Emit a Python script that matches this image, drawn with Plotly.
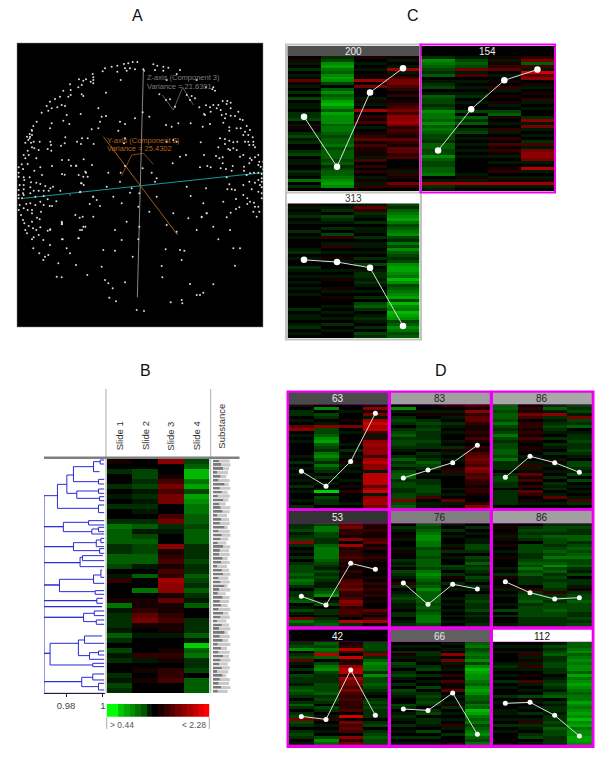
import plotly.graph_objects as go

W, H = 600, 776

# ---------- data ----------
slides = ["Slide 1", "Slide 2", "Slide 3", "Slide 4"]

sphere_points = [
(372,192),(385,190),(398,186),(412,186),(375,205),(390,205),(405,208),(430,208),(460,193),(472,197),(490,200),(505,203),
(335,200),(352,197),(315,205),(308,214),(278,222),(280,232),(352,215),(380,212),(432,212),(465,210),(490,212),(540,210),
(530,222),(362,240),(280,240),(272,245),(258,238),(237,238),(250,242),(210,253),(245,255),(235,262),(190,272),(212,270),
(280,250),(500,240),(590,240),(618,262),(640,262),(645,272),(637,268),(478,283),(498,300),(510,298),(525,320),(560,285),
(575,288),(570,300),(585,295),(318,278),(295,325),(245,283),(250,288),(212,285),(205,290),(180,290),(165,297),(150,305),
(140,318),(125,338),(185,315),(195,318),(172,322),(155,325),(145,332),(110,365),(100,378),(95,390),(90,410),(85,420),
(200,345),(242,342),(305,350),(318,348),(275,388),(295,385),(300,365),(190,362),(208,372),(155,370),(150,385),(428,337),
(448,350),(405,355),(360,365),(375,372),(355,392),(498,375),(515,380),(535,370),
(415,620),(395,565),(418,580),(365,610),(345,690),(380,665),(418,680),(398,770),(415,718),(365,720),(310,750),(345,752),
(280,590),(300,618),(280,650),(240,577),(248,650),(250,680),(240,690),(235,715),(185,665),(185,672),(150,690),(188,718),
(130,720),(150,735),(100,745),(118,760),(130,780),(145,765),(135,770),(175,790),(170,830),(185,832),(200,745),
(210,760),(228,795),(262,825),(305,800),(315,840),(325,850),(328,893),(338,865),(348,904),(375,847),(410,930),(432,933),
(485,798),(487,832),(497,748),(540,750),(545,780),(553,752),(570,852),(590,885),(600,885),(610,878),(640,853),(545,900),
(547,910),(512,907),(705,797),(560,560),(470,535),(465,545),(448,635),(470,590),(520,640),(530,695),(500,675),(565,655),
(455,518),(375,498),(362,518),(325,518),(360,545),(245,550),(258,518),(250,530),(228,497),(372,430),(375,415),(500,425),
(520,420),(530,425),(558,465),(428,505),(390,578),(540,470),(518,490),(320,560),(340,590),(290,600),
(655,718),(720,745),(700,745),(690,690),(640,680),(605,650),(590,690),(620,640)]
sphere_left_crop = [
(45,2),(38,12),(45,15),(30,20),(38,25),(25,38),(42,38),(50,35),(68,35),(100,35),(145,22),(180,35),(195,25),(212,25),
(230,42),(192,42),(132,47),(143,40),(102,45),(92,57),(103,62),(45,52),(52,55),(32,62),(20,75),(25,85),(35,75),(58,85),
(65,60),(135,90),(155,90),(200,88),(225,105),(162,107),(178,107),(105,108),(70,112),(32,102),(14,103),(5,112),(18,117),
(52,122),(5,128),(75,135),(135,132),(143,134),(185,135),(205,125),(212,140),(192,160),(200,165),(5,140),(20,142),(38,142),
(22,150),(42,157),(58,158),(70,162),(20,165),(8,165),(85,168),(108,170),(100,175),(95,182),(130,182),(20,178),(5,180),
(18,190),(40,172),(50,182),(65,182),(80,182),(190,185),(228,200),(5,195),(20,195),(40,190),(55,200),(80,198),(92,208),
(118,214),(98,228),(105,228),(218,222),(5,205),(15,205),(28,222),(40,220),(55,225),(70,215),(80,225),(8,225),(20,235),
(32,240),(45,240),(72,245),(5,240),(12,255),(45,250),(60,263),(175,255),(188,263),(18,270),(22,280),(45,275),(68,268),
(135,278),(135,283),(35,288),(48,295),(70,292),(205,290),(100,298),(92,302),(195,300),(25,300),(30,310),(58,300),(65,315),
(50,322),(45,328),(135,328),(185,325)]
sphere_right_crop = [
(98,3),(112,3),(122,8),(110,12),(85,15),(70,15),(60,22),(48,16),(28,22),(80,25),(92,30),(122,25),(95,45),(108,42),(42,42),
(45,45),(62,35),(122,47),(135,48),(145,35),(150,58),(158,60),(105,55),(100,68),(60,72),(38,80),(2,70),(118,82),(118,92),
(140,85),(152,85),(170,78),(165,95),(180,90),(160,105),(175,105),(188,112),(90,115),(105,117),(118,122),(130,127),(142,125),
(165,125),(175,125),(190,125),(105,132),(32,127),(178,135),(190,135),(195,142),(85,142),(115,147),(130,145),(140,150),
(120,150),(160,165),(150,170),(42,165),(78,168),(88,175),(98,172),(205,165),(195,172),(180,175),(185,180),(208,185),(220,185),
(178,190),(205,195),(98,190),(30,202),(52,198),(62,202),(92,205),(108,207),(128,198),(125,212),(162,200),(162,212),(212,200),
(220,208),(180,220),(192,218),(205,218),(215,222),(170,225),(215,235),(110,232),(205,240),(195,248),(178,245),(160,255),
(215,245),(210,255),(185,268),(215,262),(118,253),(112,268),(125,268),(135,270),(48,265),(205,275),(160,285),(172,295),
(215,280),(215,295),(2,288),(180,305),(192,308),(100,305),(40,310),(138,297),(172,312),(205,320),(195,320),(148,322),
(138,327),(122,338),(190,335),(208,335),(200,350),(50,340),(35,352),(110,352)]
highlight_point = [(210,585)]

x_axis_line = [(70,595),(789,518)]
z_axis_line = [(430,215),(412,892)]
y_axis_line = [(310,410),(533,705)]
z_glyph = [(487,285),(520,330),(548,262),(580,315)]
y_glyph = [(365,527),(395,465),(430,460),(460,493)]

# heat strip values: 'a'..'i' = green levels 1..9, '0' = black, '1'..'9' = red levels
B_columns = [
"10b00b0a0b" "00bedddbbd" "dc0a20001e" "abbbadb0ca" "b00bacb",
"00ccbcabab" "a0bdacdccd" "da0d00e011" "24510a0002" "a010100",
"6001353550" "035ba00612" "3132766141" "12311a0012" "1022300",
"cdhhegcgfe" "eddcdddbbb" "cbbdcbdbad" "00bbbdaide" "bbc0ddd",
]
colorbar_levels = [-9,-9,-7,-6,-5,-4,-3,-1,0,1,2,3,4,5,6,7,8,9]

panel_200 = ["01a0b0a041a0b0c0aa0bbc0a10bcab00bc0aa00ba0e0b",
             "bcfgedfgfc0dfdeghfdgfffdeedcddecdddcdbcddefgf",
             "10a0a010705000a1a0702130a012413111a302020a1a2",
             "1a0a7a1355" "3202012353" "6675232142" "1442300 1a2".replace(" ","0") + "10520"]
panel_154 = ["bfedcbd0abc0adccbcfeedfdedccbddccfdccdde0a7ba",
             "acdc5a30a0a0ab0a00c0dbd0bc0a0a0a0a00000a1a7a0",
             "1a1240a0102a0101a0cd10a02a0203121a0a0120a17a0",
             "25d3a94601a0102a0a00b6a5a0a0b3a5665a08a0a17a0"]
panel_313 = ["1a0ab0a00b0a000ab0a00ba0a0a0a0a0000b0aa0ab0a0",
             "0ab0cba0b0c20a20a01a00a0a1001a0100a0a0a0b0a00",
             "a42ba0b0aa0b0aa0a0b0c0abbaba0a0b0cdb0aba0b0cb",
             "cbdefgecdefcbecfdcbcfggfehfcdefgchfehgfcdfecd"]
panel_63 = ["a0bb0a0460a0a0000a0b0a0a0a0b0a00a0b",
            "0f0cb0a6ccdfgdcbefdbecb0b0a0ai0cbb",
            "00a001050a000a0b0a01a0a00a0102000a0",
            "1615a79783a26766637866a8888479a6775"]
panel_83 = ["0fa0bcb0bcdbccba0bdbcacddbccbbcc5cd",
            "00a10bcbcbbbcbb0babdcb0a0bbcccb30aa",
            "20a1a0ba0a00a0b1a0a0012a0000a0a04a1",
            "31624421121310213454365342212210 26".replace(" ","0")]
panel_86 = ["ddcddcecbcecbccddcebbb0bccbb0bbbbb0",
            "02153022121310110a0a2a14130204201a0",
            "bda6babcba0b0ba0b0a1a0a0b0bab0a40a0",
            "cbca5cbd0abbcbbcba0ccbac0c0a0a0a3b0"]
panel_53 = ["bbcabc6b0a0b0bcccdcedb0bbcd0aca05ec",
            "ceeccbbdeeeedcbacbcbaacdf0ac0bb1bcd",
            "45221607122321202113435223652332 8b".replace(" ","0"),
            "21211341201210010010212120100420370"]
panel_76 = ["0ba01a00a100bab0cba02b0abcbaa0bb0ab",
            "dcdeffeecddcdddcefedcdfddddcdcdeeec",
            "a0b0a00a1b0a00cb0b10b0a00a0a0a0a0a0",
            "0b0a0aaccb0cbdbcbacb0ba0bbcbbcabaab"]
panel_86b = ["0101a1010a01000a0b1001a0a00a0c0b00a",
             "0bcbcb0cccbbcdcecdbbb02bccdbccccbbb",
             "bccbdccbcdcecdfcdbcbccb2bcbccdccbbb",
             "bcbbddbcdcdeccdbac0bba1bccdcccbbcbc"]
panel_42 = ["bcf0bc4a0b0cbbacdcb0bdb0bc5cb0bcb0a",
            "dced8d0cefcbbbcccdbcb0cb0a20a0a0cfd",
            "1283091268827553532322230905343 625".replace(" ","0"),
            "cccb5bdfeebfccdcba0bcbcbbb0bc0bcdcc"]
panel_66 = ["0a0b1a0cb0bca0b0cba00cb0aba0b0a0b0a",
            "0a0bbaa0bc0b0a0c0bcbcb0bc0bba0c0b0a",
            "a0a0605a1a02031 40a0a1b0a0a02a0b001".replace(" ","0"),
            "decdedfcfhgffedfgfddcedhgedecdefdce"]
panel_112 = ["0a0a000aba0a0b0a00b0a00aa0a0b0a0000",
             "0a0a2a1a2a0103a0a0c1a0a0b0a2ba0bc0a",
             "acbcdbbccbb0abcbacd0babbabbcbdccbbb",
             "ddefdefeffdgefgfedeegfefgfhfgeffggf"]

panel_200_line = [0.55,0.18,0.73,0.91]
panel_154_line = [0.30,0.606,0.82,0.90]
panel_313_line = [0.58,0.564,0.522,0.09]
panel_63_line = [0.356,0.212,0.451,0.913]
panel_83_line = [0.292,0.369,0.439,0.606]
panel_86_line = [0.298,0.50,0.439,0.346]
panel_53_line = [0.294,0.21,0.613,0.555]
panel_76_line = [0.423,0.216,0.41,0.365]
panel_86b_line = [0.435,0.329,0.268,0.281]
panel_42_line = [0.277,0.248,0.726,0.287]
panel_66_line = [0.348,0.335,0.503,0.103]
panel_112_line = [0.403,0.413,0.287,0.087]

# dendrogram brackets: (similarity, y1, similarity of child 1, y2, similarity of child 2)
dendro_nodes = [
(.968,437,.9753,530,.9785),(.968,530,.9785,590,.984),(.968,590,.984,638,.9876),(.968,638,.9876,705,.9764),
(.968,705,.9764,752,.9967),(.968,752,.9967,770,.9995),(.968,770,.9995,802,.9895),(.968,802,.9895,910,.9713),
(.968,910,.9713,995,.9885),(.968,995,.9885,1030,1.0007),
(.9753,403,.9804,475,.9976),(.9804,375,.984,430,.9858),(.984,350,.9949,395,.9976),(.9949,335,.9985,365,.9982),
(.9985,330,1.0007,342,1.0007),(.9976,388,1.0007,402,1.0007),(.9858,423,.9976,445,.9982),(.9976,417,1.0007,430,1.0007),
(.9982,440,1.0007,452,1.0007),(.9976,465,1.0007,488,1.0007),
(.9785,517,.9922,545,.994),(.9922,512,1.0007,525,1.0007),(.994,537,.9976,552,1.0007),(.9976,532,1.0007,545,1.0007),
(.984,578,.9964,602,.9982),(.9964,570,.9989,590,1.0007),(.9989,565,1.0007,578,1.0007),(.9982,596,1.0007,610,1.0007),
(.9876,622,.9889,650,1.0007),(.9889,617,1.0,632,1.0007),
(.9764,688,.9949,725,.9958),(.9949,675,.9989,700,1.0007),(.9989,660,.9995,682,1.0007),(.9958,722,1.0007,733,1.0007),
(.9967,745,1.0,760,1.0),
(.9895,790,.9953,815,.9964),(.9953,783,1.0007,797,1.0007),(.9964,810,1.0007,823,1.0007),
(.9713,880,.9867,945,.9945),(.9867,870,.99,917,.9927),(.99,858,.9995,880,1.0007),(.9927,908,.9976,928,1.0007),
(.9976,903,1.0007,915,1.0007),(.9945,940,1.0007,950,1.0007),
(.9885,982,.9945,1010,.9976),(.9945,972,1.0007,990,1.0007),(.9976,1000,1.0007,1020,1.0007),
]
dendro_ticks = [0.98, 1.0]
dendro_ticklabels = ["0.98", "1"]

substance_light = [50,52,48,45,40,50,47,52,44,50,46,38,52,50,42,48,50,44,50,52,46,40,52,48,50,44,50,42,48,52,
                   46,50,44,52,38,50,48,44,52,46,50,40,48,52,44,50,46,52,42,50,48,52,44,50,46,40,50,48,52,44]
substance_dark = [18,24,30,12,22,16,34,20,26,14,30,18,22,28,12,24,20,34,16,26,22,14,30,20,18,28,24,12,26,30,
                  16,22,34,18,14,28,20,24,16,30,22,12,26,18,34,20,28,14,24,16,30,22,18,26,12,28,20,16,24,14]

# ---------- scaffolding ----------
traces, shapes, annos, layout_axes = [], [], [], {}
axis_count = 0
GREEN_RED = [[0, "rgb(0,255,0)"], [0.5, "rgb(0,0,0)"], [1, "rgb(255,0,0)"]]
FONT = "Liberation Sans"
PANEL_Z = 11

def new_axes(x0, x1, y0, y1, xrange, yrange, **xextra):
    global axis_count
    axis_count += 1
    n = axis_count
    xa = dict(domain=[x0 / W, x1 / W], range=xrange, anchor=f"y{n}", visible=False, fixedrange=True)
    xa.update(xextra)
    layout_axes[f"xaxis{n}"] = xa
    layout_axes[f"yaxis{n}"] = dict(domain=[1 - y1 / H, 1 - y0 / H], range=yrange, anchor=f"x{n}",
                                    visible=False, fixedrange=True)
    return f"x{n}", f"y{n}"

def rect(x0, y0, x1, y1, fill=None, line=None, width=0):
    shapes.append(dict(type="rect", xref="paper", yref="paper", x0=x0 / W, x1=x1 / W, y0=1 - y0 / H, y1=1 - y1 / H,
                       fillcolor=fill, line=dict(color=line, width=width), layer="below"))

def seg(x0, y0, x1, y1, color, width=1):
    shapes.append(dict(type="line", xref="paper", yref="paper", x0=x0 / W, x1=x1 / W, y0=1 - y0 / H, y1=1 - y1 / H,
                       line=dict(color=color, width=width), layer="above"))

def text(x, y, s, size=10, color="#222", angle=0, xanchor="center"):
    annos.append(dict(xref="paper", yref="paper", x=x / W, y=1 - y / H, text=s, showarrow=False, xanchor=xanchor,
                      yanchor="middle", textangle=angle, font=dict(family=FONT, size=size, color=color)))

def decode(ch):
    if ch.isdigit():
        return int(ch)
    return -(ord(ch) - ord("a") + 1)

def strip_matrix(columns):
    rows = max(len(c) for c in columns)
    return [[decode(c[r]) if r < len(c) else 0 for c in columns] for r in range(rows)]

def heat_panel(x0, x1, y0, y1, columns, line, marker):
    z = strip_matrix(columns)
    xa, ya = new_axes(x0, x1, y0, y1, [-0.5, 3.5], [len(z) - 0.5, -0.5])
    traces.append(go.Heatmap(z=z, xaxis=xa, yaxis=ya, colorscale=GREEN_RED, zmin=-PANEL_Z, zmax=PANEL_Z,
                             showscale=False, hoverinfo="skip"))
    xb, yb = new_axes(x0, x1, y0, y1, [-0.5, 3.5], [0, 1])
    traces.append(go.Scatter(x=list(range(4)), y=line, xaxis=xb, yaxis=yb, mode="lines+markers",
                             line=dict(color="#dddddd", width=1), marker=dict(color="white", size=marker),
                             hoverinfo="skip"))

def header(x0, x1, y0, y1, label, fill, color):
    rect(x0, y0, x1, y1, fill=fill)
    text((x0 + x1) / 2, (y0 + y1) / 2 + 0.5, label, size=10, color=color)

# panel letters
text(137, 15, "A", 16, "#111")
text(413, 15, "C", 16, "#111")
text(145, 370, "B", 16, "#111")
text(441, 370, "D", 16, "#111")

# ---------- A: sphere ----------
rect(17, 43, 263, 327, fill="black", line="#888", width=0.5)
xa, ya = new_axes(17, 263, 43, 327, [51, 789], [981, 129])
all_points = (sphere_points + [(51 + p[0], 390 + p[1]) for p in sphere_left_crop]
              + [(570 + p[0], 300 + p[1]) for p in sphere_right_crop])
for name, pts, col, wid in [("x", x_axis_line, "#149a9a", 1), ("z", z_axis_line, "#a8a8a8", 0.8),
                            ("y", y_axis_line, "#b8651a", 0.9), ("zg", z_glyph, "#999999", 0.6),
                            ("yg", y_glyph, "#b8651a", 0.7)]:
    traces.append(go.Scatter(x=[p[0] for p in pts], y=[p[1] for p in pts], xaxis=xa, yaxis=ya, mode="lines",
                             line=dict(color=col, width=wid), hoverinfo="skip"))
traces.append(go.Scatter(x=[p[0] for p in all_points], y=[p[1] for p in all_points], xaxis=xa, yaxis=ya,
                         mode="markers", marker=dict(color="#dcdcdc", size=2), hoverinfo="skip"))
traces.append(go.Scatter(x=[p[0] for p in highlight_point], y=[p[1] for p in highlight_point], xaxis=xa, yaxis=ya,
                         mode="markers", marker=dict(color="#d02020", size=2), hoverinfo="skip"))
for s, zx, zy, col in [("Z-axis (Component 3)", 436, 234, "#7c7c7c"), ("Variance = 21.6391", 436, 260, "#7c7c7c"),
                       ("Y-axis (Component 2)", 316, 420, "#b8601a"), ("Variance = 25.4302", 316, 446, "#b8601a")]:
    text(zx / 3, zy / 3, s, 7.5, col, xanchor="left")

# ---------- C ----------
rect(286, 44.5, 421, 193, line="#c4c4bc", width=2)
rect(286, 192.5, 421, 339.5, line="#c4c4bc", width=2)
rect(420.5, 44.5, 555, 192.5, line="#f000f0", width=2)
header(287.5, 419.5, 46, 56, "200", "#505050", "#eeeeee")
header(421.5, 554, 46, 56, "154", "#000000", "#eeeeee")
header(287.5, 419.5, 193.5, 203.3, "313", "#ffffff", "#333333")
heat_panel(287.5, 419.5, 56, 191, panel_200, panel_200_line, 6.5)
heat_panel(421.5, 554, 56, 191, panel_154, panel_154_line, 6.5)
heat_panel(287.5, 419.5, 203.3, 338, panel_313, panel_313_line, 6.5)

# ---------- D ----------
rect(286.5, 390.5, 594.5, 748, fill="#f000f0")
D_cols = [(289, 387.7), (391, 489.7), (493, 591.7)]
D_rows = [(392.7, 404.3, 508.3), (511, 523.3, 626.7), (629.7, 641.7, 745)]
D_panels = [
    [("63", "#4a4a4a", "#f0f0f0", panel_63, panel_63_line), ("83", "#a0a0a0", "#222222", panel_83, panel_83_line),
     ("86", "#a8a8a8", "#222222", panel_86, panel_86_line)],
    [("53", "#333333", "#f0f0f0", panel_53, panel_53_line), ("76", "#808080", "#222222", panel_76, panel_76_line),
     ("86", "#a0a0a0", "#222222", panel_86b, panel_86b_line)],
    [("42", "#000000", "#f0f0f0", panel_42, panel_42_line), ("66", "#606060", "#e8e8e8", panel_66, panel_66_line),
     ("112", "#ffffff", "#111111", panel_112, panel_112_line)],
]
for (ya0, ya1, ya2), row in zip(D_rows, D_panels):
    for (xa0, xa1), (label, fill, col, columns, line) in zip(D_cols, row):
        header(xa0, xa1, ya0, ya1, label, fill, col)
        heat_panel(xa0, xa1, ya1, ya2, columns, line, 5)

# ---------- B ----------
z = strip_matrix(B_columns)
xa, ya = new_axes(106.7, 209.3, 459, 693.3, [-0.5, 3.5], [len(z) - 0.5, -0.5])
traces.append(go.Heatmap(z=z, xaxis=xa, yaxis=ya, colorscale=GREEN_RED, zmin=-PANEL_Z, zmax=PANEL_Z, showscale=False,
                         hoverinfo="skip"))
xa, ya = new_axes(106.7, 209.3, 704, 716.7, [-0.5, len(colorbar_levels) - 0.5], [-0.5, 0.5])
traces.append(go.Heatmap(z=[colorbar_levels], xaxis=xa, yaxis=ya, colorscale=GREEN_RED, zmin=-9, zmax=9,
                         showscale=False, hoverinfo="skip"))

# dendrogram
xa, ya = new_axes(44, 105.3, 459, 693.3, [.968, 1.0013], [1030, 327], visible=True, showline=True,
                  linecolor="#222222", linewidth=1, ticks="outside", ticklen=3, tickcolor="#222222",
                  tickvals=dendro_ticks, ticktext=dendro_ticklabels, showgrid=False, zeroline=False,
                  tickfont=dict(family=FONT, size=9.5, color="#444444"))
dx, dy = [], []
for s, y1, c1, y2, c2 in dendro_nodes:
    dx += [c1, s, s, c2, None]
    dy += [y1, y1, y2, y2, None]
traces.append(go.Scatter(x=dx, y=dy, xaxis=xa, yaxis=ya, mode="lines", line=dict(color="#2a2ad8", width=1),
                         hoverinfo="skip"))

# substance strip
xa, ya = new_axes(213, 232, 459, 693.3, [0, 57], [59.5, -0.5])
rows = list(range(len(substance_light)))
traces.append(go.Bar(x=substance_light, y=rows, orientation="h", xaxis=xa, yaxis=ya, width=0.8,
                     marker=dict(color="#c9c9c9", line=dict(width=0)), hoverinfo="skip"))
traces.append(go.Bar(x=substance_dark, y=rows, orientation="h", xaxis=xa, yaxis=ya, width=0.45,
                     marker=dict(color="#7a7a7a", line=dict(width=0)), hoverinfo="skip"))

for lab, zx in zip(slides, [269, 346, 423, 500]):
    text(30 + zx / 3, 350 + 260 / 3 - 1, lab, 9.5, "#333333", angle=-90)
text(30 + 572 / 3, 350 + 228 / 3, "Substance", 9.5, "#333333", angle=-90)
seg(106, 389, 106, 693, "#aaaaaa", 1)
seg(210.7, 389, 210.7, 693, "#aaaaaa", 1)
seg(44, 457.7, 239.5, 457.7, "#808080", 2.5)
seg(106.7, 717, 106.7, 729, "#aaaaaa", 1)
seg(209.3, 717, 209.3, 729, "#aaaaaa", 1)
text(108, 725, "&gt; 0.44", 8.5, "#555555", xanchor="left")
text(208, 725, "&lt; 2.28", 8.5, "#555555", xanchor="right")

fig = go.Figure(traces)
fig.update_layout(width=W, height=H, margin=dict(l=0, r=0, t=0, b=0), paper_bgcolor="white", plot_bgcolor="rgba(0,0,0,0)",
                  showlegend=False, barmode="overlay", shapes=shapes, annotations=annos, **layout_axes)
fig.write_html("out.html", config={"displayModeBar": False},
               post_script="document.body.style.margin='0';document.documentElement.style.overflow='hidden';")
